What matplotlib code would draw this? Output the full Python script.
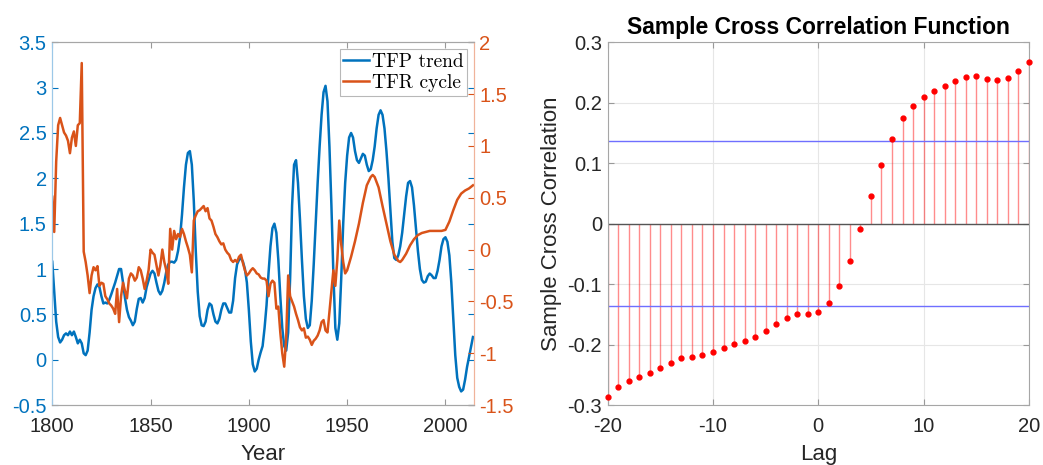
import matplotlib

matplotlib.use("Agg")
import matplotlib.pyplot as plt  # noqa: E402

plt.rcParams['font.family'] = ['Liberation Sans', 'DejaVu Sans']
plt.rcParams['axes.unicode_minus'] = False

# --- left panel: TFP trend (left axis) and TFR cycle (right axis) ---
tfp_years = [1800, 1801, 1802, 1803, 1804, 1805, 1806, 1807, 1808, 1809,
             1810, 1811, 1812, 1813, 1814, 1815, 1816, 1817, 1818, 1819,
             1820, 1821, 1822, 1823, 1824, 1825, 1826, 1827, 1828, 1829,
             1830, 1832, 1834, 1835, 1836, 1837, 1838, 1839, 1840, 1841,
             1842, 1843, 1844, 1845, 1846, 1847, 1848, 1850, 1851, 1852,
             1853, 1854, 1855, 1856, 1857, 1858, 1859, 1860, 1861, 1862,
             1863, 1864, 1865, 1866, 1867, 1868, 1869, 1870, 1871, 1872,
             1873, 1874, 1875, 1876, 1877, 1878, 1879, 1880, 1881, 1882,
             1883, 1884, 1885, 1886, 1887, 1888, 1889, 1890, 1891, 1892,
             1893, 1894, 1895, 1896, 1897, 1898, 1899, 1900, 1901, 1902,
             1903, 1904, 1905, 1906, 1907, 1908, 1909, 1910, 1911, 1912,
             1913, 1914, 1915, 1916, 1917, 1918, 1919, 1920, 1921, 1922,
             1923, 1924, 1925, 1926, 1927, 1928, 1929, 1930, 1931, 1932,
             1933, 1934, 1935, 1936, 1937, 1938, 1939, 1940, 1941, 1942,
             1943, 1944, 1945, 1946, 1947, 1948, 1949, 1950, 1951, 1952,
             1953, 1954, 1955, 1956, 1957, 1958, 1959, 1960, 1961, 1962,
             1963, 1964, 1965, 1966, 1967, 1968, 1969, 1970, 1971, 1972,
             1973, 1974, 1975, 1976, 1977, 1978, 1979, 1980, 1981, 1982,
             1983, 1984, 1985, 1986, 1987, 1988, 1989, 1990, 1991, 1992,
             1993, 1994, 1995, 1996, 1997, 1998, 1999, 2000, 2001, 2002,
             2003, 2004, 2005, 2006, 2007, 2008, 2009, 2010, 2011, 2012,
             2013, 2014]
tfp_trend = [1.08, 0.75, 0.42, 0.25, 0.19, 0.22, 0.27, 0.29, 0.27, 0.31,
             0.27, 0.31, 0.25, 0.18, 0.22, 0.18, 0.07, 0.05, 0.10, 0.30,
             0.55, 0.70, 0.79, 0.83, 0.80, 0.70, 0.62, 0.63, 0.62, 0.66,
             0.72, 0.85, 1.00, 1.00, 0.85, 0.68, 0.55, 0.47, 0.43, 0.38,
             0.42, 0.56, 0.67, 0.68, 0.63, 0.68, 0.80, 0.95, 0.98, 0.95,
             0.85, 0.76, 0.72, 0.76, 0.85, 0.97, 1.05, 1.08, 1.08, 1.07,
             1.10, 1.20, 1.35, 1.60, 1.90, 2.15, 2.28, 2.30, 2.15, 1.75,
             1.20, 0.75, 0.48, 0.38, 0.37, 0.42, 0.55, 0.62, 0.60, 0.50,
             0.42, 0.40, 0.45, 0.55, 0.62, 0.62, 0.57, 0.52, 0.52, 0.65,
             0.90, 1.05, 1.10, 1.12, 1.08, 1.00, 0.85, 0.55, 0.20, -0.05,
             -0.13, -0.10, 0.00, 0.08, 0.15, 0.35, 0.60, 0.95, 1.25, 1.45,
             1.50, 1.40, 1.10, 0.70, 0.35, 0.15, 0.10, 0.30, 0.90, 1.70,
             2.15, 2.20, 1.95, 1.55, 1.10, 0.70, 0.45, 0.35, 0.38, 0.65,
             1.05, 1.50, 1.95, 2.35, 2.70, 2.95, 3.02, 2.85, 2.35, 1.70,
             0.95, 0.35, 0.22, 0.40, 0.90, 1.50, 1.95, 2.25, 2.45, 2.50,
             2.45, 2.30, 2.20, 2.17, 2.22, 2.27, 2.25, 2.15, 2.08, 2.10,
             2.20, 2.35, 2.55, 2.70, 2.75, 2.70, 2.55, 2.30, 2.00, 1.65,
             1.30, 1.12, 1.10, 1.15, 1.25, 1.40, 1.60, 1.80, 1.95, 1.97,
             1.90, 1.70, 1.45, 1.20, 1.00, 0.88, 0.85, 0.86, 0.92, 0.95,
             0.93, 0.90, 0.90, 0.98, 1.10, 1.25, 1.33, 1.35, 1.30, 1.15,
             0.85, 0.45, 0.05, -0.20, -0.30, -0.35, -0.33, -0.22, -0.08, 0.03,
             0.14, 0.25]

tfr_years = list(range(1800, 1951)) + [1952, 1954, 1956, 1958, 1960, 1962,
                                       1963, 1964, 1966, 1968, 1970, 1972,
                                       1974, 1976, 1977, 1978, 1980, 1982,
                                       1984, 1986, 1988, 1990, 1992, 1994,
                                       1996, 1998, 2000, 2002, 2004, 2006,
                                       2008, 2010, 2012, 2014]
tfr_cycle = [0.51, 0.17, 0.85, 1.20, 1.27, 1.20, 1.13, 1.10, 1.05, 0.93,
             1.08, 1.14, 1.00, 1.20, 1.22, 1.80, -0.02, -0.12, -0.25, -0.42,
             -0.25, -0.17, -0.20, -0.16, -0.35, -0.32, -0.33, -0.45, -0.48, -0.52,
             -0.54, -0.57, -0.62, -0.38, -0.70, -0.45, -0.32, -0.40, -0.47, -0.28,
             -0.23, -0.25, -0.30, -0.27, -0.17, -0.20, -0.28, -0.38, -0.30, -0.20,
             0.00, -0.03, -0.05, -0.15, -0.25, -0.15, 0.00, -0.12, -0.20, -0.33,
             0.20, 0.00, 0.18, 0.10, 0.15, 0.12, 0.20, 0.15, 0.08, 0.02,
             -0.05, -0.22, 0.28, 0.33, 0.37, 0.38, 0.40, 0.42, 0.37, 0.40,
             0.30, 0.28, 0.22, 0.15, 0.12, 0.08, 0.05, 0.06, 0.00, -0.03,
             -0.05, -0.10, -0.12, -0.10, -0.12, -0.07, -0.05, -0.13, -0.20, -0.25,
             -0.23, -0.20, -0.18, -0.20, -0.23, -0.24, -0.27, -0.28, -0.28, -0.30,
             -0.45, -0.33, -0.30, -0.32, -0.57, -0.55, -0.80, -1.00, -1.13, -0.85,
             -0.25, -0.45, -0.50, -0.55, -0.62, -0.68, -0.75, -0.78, -0.76, -0.85,
             -0.84, -0.87, -0.92, -0.88, -0.86, -0.83, -0.78, -0.70, -0.68, -0.78,
             -0.80, -0.60, -0.40, -0.20, -0.35, -0.10, 0.28, 0.05, -0.12, -0.23,
             -0.20,
             -0.07, 0.08, 0.25, 0.45, 0.62, 0.70, 0.72, 0.70, 0.60, 0.42,
             0.25, 0.08, -0.05, -0.11, -0.12, -0.10, -0.04, 0.04, 0.10, 0.14,
             0.16, 0.17, 0.18, 0.18, 0.18, 0.18, 0.19, 0.27, 0.38, 0.48,
             0.54, 0.57, 0.59, 0.62]

# --- right panel: sample cross correlation ---
lags = list(range(-20, 21))
xcf = [-0.287, -0.271, -0.260, -0.253, -0.247, -0.238, -0.230, -0.223, -0.221, -0.218,
       -0.212, -0.206, -0.199, -0.194, -0.187, -0.177, -0.166, -0.156, -0.150, -0.149,
       -0.146, -0.132, -0.103, -0.061, -0.009, 0.046, 0.097, 0.140, 0.174, 0.195,
       0.210, 0.219, 0.228, 0.236, 0.242, 0.245, 0.239, 0.238, 0.241, 0.252,
       0.268]
conf_bound = 0.136

blue = '#0072BD'
orange = '#D95319'
dark = '#262626'

fig = plt.figure(figsize=(10.43, 4.65), dpi=100)

# left panel
ax1 = fig.add_axes([0.0501, 0.129, 0.4043, 0.780])
ax2 = ax1.twinx()
l1, = ax1.plot(tfp_years, tfp_trend, color=blue, lw=1.8, label='TFP trend')
l2, = ax2.plot(tfr_years, tfr_cycle, color=orange, lw=1.8, label='TFR cycle')
ax1.set_xlim(1800, 2014.5)
ax1.set_ylim(-0.5, 3.5)
ax2.set_ylim(-1.5, 2)
ax1.set_xticks([1800, 1850, 1900, 1950, 2000])
ax1.set_yticks([-0.5, 0, 0.5, 1, 1.5, 2, 2.5, 3, 3.5])
ax1.set_yticklabels(['-0.5', '0', '0.5', '1', '1.5', '2', '2.5', '3', '3.5'])
ax2.set_yticks([-1.5, -1, -0.5, 0, 0.5, 1, 1.5, 2])
ax2.set_yticklabels(['-1.5', '-1', '-0.5', '0', '0.5', '1', '1.5', '2'])
ax1.tick_params(axis='x', direction='in', top=True, labelsize=14.5,
                colors='#999999', labelcolor=dark, length=4, width=0.8, pad=8.5)
ax1.tick_params(axis='y', direction='in', right=True, labelsize=14.5,
                colors=blue, length=4, width=0.8, pad=4)
ax2.tick_params(axis='y', direction='in', labelsize=14.5, colors=orange,
                length=4, width=0.8, pad=4)
ax1.set_xlabel('Year', fontsize=16, color=dark, labelpad=6)
for side in ['top', 'bottom']:
    ax1.spines[side].set_color('#a6a6a6')
    ax2.spines[side].set_color('#a6a6a6')
ax2.spines['left'].set_color('#9cc8e8')
ax2.spines['right'].set_color('#f0b39a')
ax1.spines['left'].set_color('#9cc8e8')
ax1.spines['right'].set_color('#f0b39a')
leg = ax2.legend(handles=[l1, l2], loc='upper right', fancybox=False,
                 prop={'family': 'cmr10', 'size': 14}, handlelength=1.3,
                 handletextpad=0.15, borderpad=0.2, labelspacing=0.15,
                 borderaxespad=0.35)
leg.get_frame().set_edgecolor('#a6a6a6')
leg.get_frame().set_linewidth(0.8)

# right panel
ax3 = fig.add_axes([0.5826, 0.129, 0.4039, 0.780])
ax3.grid(True, color='#e6e6e6', lw=0.8)
ax3.set_axisbelow(True)
ax3.vlines(lags, 0, xcf, color=(1, 0, 0, 0.45), lw=1)
ax3.axhline(0, color='#555555', lw=1)
ax3.axhline(conf_bound, color='#6f6fff', lw=1)
ax3.axhline(-conf_bound, color='#6f6fff', lw=1)
ax3.plot(lags, xcf, 'o', color='red', ms=3.5, clip_on=False, zorder=5)
ax3.set_xlim(-20, 20)
ax3.set_ylim(-0.3, 0.3)
ax3.set_xticks([-20, -10, 0, 10, 20])
ax3.set_xticklabels(['-20', '-10', '0', '10', '20'])
ax3.set_yticks([-0.3, -0.2, -0.1, 0, 0.1, 0.2, 0.3])
ax3.set_yticklabels(['-0.3', '-0.2', '-0.1', '0', '0.1', '0.2', '0.3'])
ax3.tick_params(direction='in', top=True, right=True, labelsize=14.5,
                colors='#999999', labelcolor=dark, length=4, width=0.8)
ax3.tick_params(axis='x', pad=8.5)
ax3.tick_params(axis='y', pad=4)
for side in ax3.spines.values():
    side.set_color('#a6a6a6')
ax3.set_xlabel('Lag', fontsize=16, color=dark, labelpad=6)
ax3.set_ylabel('Sample Cross Correlation', fontsize=16, color=dark, labelpad=4)
ax3.set_title('Sample Cross Correlation Function', fontsize=16.5,
              fontweight='bold', color='black', pad=6)

fig.savefig('out.png', dpi=100)
